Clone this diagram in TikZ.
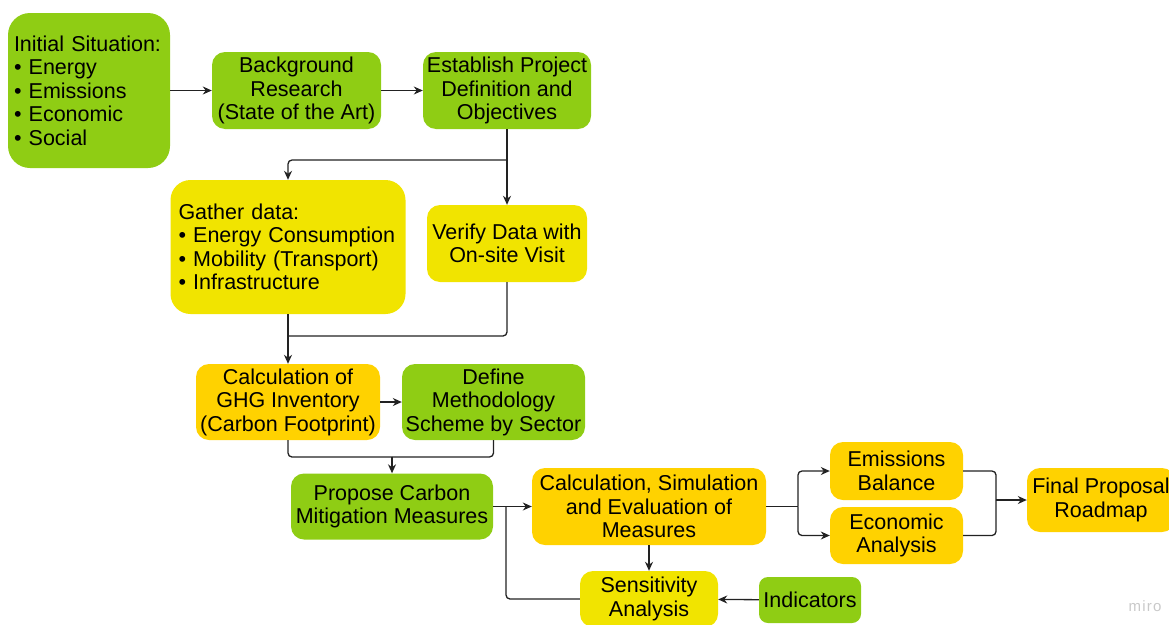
\documentclass[tikz,border=0pt]{standalone}
\usepackage{fontspec}
\setmainfont{Liberation Sans}
\usepackage{tikz}
\usetikzlibrary{arrows.meta,positioning,calc}
\definecolor{cGreen}{HTML}{8FCD14}
\definecolor{cYellow}{HTML}{F1E400}
\definecolor{cGold}{HTML}{FFD200}
\definecolor{cLine}{HTML}{222222}
\definecolor{cMark}{HTML}{C9C9C9}
\tikzset{
  stage/.style={rounded corners=13pt,inner sep=3pt,align=center,
    font=\fontsize{21.5}{23.5}\selectfont},
  greenbox/.style={stage,fill=cGreen},
  yellowbox/.style={stage,fill=cYellow},
  goldbox/.style={stage,fill=cGold},
  flow/.style={-{Stealth[length=9pt,width=8pt]},line width=1.3pt,cLine},
  joinline/.style={line width=1.3pt,cLine,rounded corners=4pt},
}

\begin{document}
\begin{tikzpicture}[x=1pt,y=-1pt]
  \useasboundingbox (0,0) rectangle (1169,624);
  % top row
  \node[greenbox,rounded corners=22pt,align=left,text width=150,inner xsep=6,minimum height=155] (init) at (89,90.5)
    {Initial Situation:\\ • Energy\\ • Emissions\\ • Economic\\ • Social};
  \node[greenbox,minimum width=169,minimum height=77] (bg) at (296.5,90.5)
    {Background\\ Research\\ (State of the Art)};
  \node[greenbox,minimum width=168,minimum height=77] (est) at (507,90.5)
    {Establish Project\\ Definition and\\ Objectives};
  % data
  \node[yellowbox,rounded corners=20pt,align=left,text width=219,inner xsep=8,minimum height=134] (gather) at (288,247)
    {Gather data:\\ • Energy Consumption\\ • Mobility (Transport)\\ • Infrastructure};
  \node[yellowbox,minimum width=160,minimum height=77] (verify) at (507,243.5)
    {Verify Data with\\ On-site Visit};
  % inventory
  \node[goldbox,minimum width=184,minimum height=76] (ghg) at (288,402)
    {Calculation of\\ GHG Inventory\\ (Carbon Footprint)};
  \node[greenbox,minimum width=183,minimum height=76] (define) at (493.5,402)
    {Define\\ Methodology\\ Scheme by Sector};
  % measures
  \node[greenbox,minimum width=202,minimum height=66] (propose) at (392,506.5)
    {Propose Carbon\\ Mitigation Measures};
  \node[goldbox,minimum width=234,minimum height=77] (calcsim) at (649,506.5)
    {Calculation, Simulation\\ and Evaluation of\\ Measures};
  \node[goldbox,minimum width=133,minimum height=58] (emis) at (896.5,471)
    {Emissions\\ Balance};
  \node[goldbox,minimum width=133,minimum height=57] (econ) at (896.5,535.5)
    {Economic\\ Analysis};
  \node[goldbox,minimum width=148,minimum height=64] (final) at (1101,500)
    {Final Proposal\\ Roadmap};
  \node[yellowbox,minimum width=138,minimum height=56] (sens) at (649,599)
    {Sensitivity\\ Analysis};
  \node[greenbox,rounded corners=9pt,minimum width=102,minimum height=46] (ind) at (810,600)
    {Indicators};
  \node[text=cMark,font=\fontsize{15}{15}\selectfont\addfontfeature{LetterSpace=8}] (miro) at (1145,606) {miro};

  % junctions
  \coordinate (jEst) at (507,160);
  \coordinate (jData) at (288,336);
  \coordinate (jInv) at (392,457);
  \coordinate (jLoop) at (506,506.5);
  \coordinate (jSplit) at (798,506.5);
  \coordinate (jMerge) at (996,500);

  \draw[flow] (init) -- (bg);
  \draw[flow] (bg) -- (est);
  \draw[flow] (est.south) -- (verify.north);
  \draw[flow,rounded corners=4pt] (jEst) -| (gather.north);
  \draw[flow] (gather.south) -- (ghg.north);
  \draw[joinline] (verify.south) |- (jData);
  \draw[flow] (ghg) -- (define);
  \draw[joinline] (ghg.south) |- (jInv);
  \draw[joinline] (define.south) |- (jInv);
  \draw[flow] (jInv) -- (propose.north);
  \draw[flow] (propose) -- (calcsim);
  \draw[joinline] (sens.west) -| (jLoop);
  \draw[flow] (calcsim.south) -- (sens.north);
  \draw[flow] (ind) -- (sens);
  \draw[joinline] (calcsim.east) -- (jSplit);
  \draw[flow,rounded corners=4pt] (jSplit) |- (emis.west);
  \draw[flow,rounded corners=4pt] (jSplit) |- (econ.west);
  \draw[joinline] (emis.east) -| (jMerge);
  \draw[joinline] (econ.east) -| (jMerge);
  \draw[flow] (jMerge) -- (final.west);
\end{tikzpicture}
\end{document}
